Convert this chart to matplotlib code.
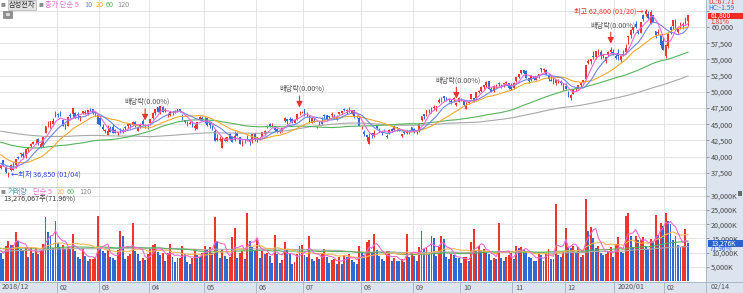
import numpy as np
import pandas as pd
import matplotlib
matplotlib.use("Agg")
import matplotlib.pyplot as plt
import matplotlib.ticker as ticker
import matplotlib.transforms as mtransforms
from matplotlib.patches import Rectangle
from matplotlib.lines import Line2D

plt.rcParams["font.family"] = ["Noto Sans CJK KR", "DejaVu Sans"]

# ---------------------------------------------------------------------------
# Data: Samsung Electronics daily bars, 2018/12/28 .. 2020/02/14
# prices in won, volumes in thousand shares
# ---------------------------------------------------------------------------
month_labels = ["2018/12", "", "02", "03", "04", "05", "06", "07", "08",
                "09", "10", "11", "12", "2020/01", "02"]
bars_per_month = [1, 22, 17, 20, 22, 21, 19, 23, 21, 19, 21, 21, 20, 20, 10]
exdiv_bars = [58, 120, 183, 245]
last_date = "02/14"

# 119 closes / volumes before the first visible bar (for the moving averages)
pre_closes = [
    46150, 45400, 45300, 45850, 45550, 45150, 46000, 46400, 46300, 46550,
    46350, 46200, 45500, 45900, 46400, 46900, 46700, 46350, 46000,
    46150, 45550, 44700, 45300, 45700, 45250, 45400, 44800, 44450, 43900,
    44300, 44000, 44600, 45100, 45050, 45950, 46300, 46600, 46700, 46850, 46900, 46450,
    45550, 45000, 44850, 44750, 44250, 44550, 44400, 44050, 44750, 45900,
    45300, 44850, 45350, 46350, 47100, 47250, 46450,
    46350, 45650, 44700, 44700, 44950, 44800, 43000, 43900, 44500, 43550,
    44050, 43300, 43000, 43050, 43300, 42550, 41550, 41000, 41100, 41000, 42400,
    42150, 43550, 43350, 43100, 43950, 44300, 43750, 43050, 43200, 43300,
    43050, 44000, 43650, 42900, 42250, 42350, 42600, 43150, 43350, 43050, 43250, 43500,
    43900, 42450, 41850, 41100, 40750, 40500, 40450, 40750, 40800, 40000,
    39200, 39150, 39300, 38900, 38950, 38800, 38350, 38250,
]
pre_volumes = [
    11200, 10400, 9800, 8300, 7900, 8600, 9100, 8700, 7600, 8200,
    9400, 8000, 7300, 8900, 10100, 9600, 8800, 9200, 10300,
    9600, 8400, 10800, 8900, 9300, 10200, 8100, 9700, 11500, 12300,
    10600, 9400, 8800, 9100, 8500, 10900, 9800, 8600, 7900, 8800, 9500, 10400,
    9100, 8700, 10500, 9900, 11200, 9400, 8600, 9800, 10300, 12100,
    9700, 8800, 9500, 14600, 13200, 8900, 8100,
    8400, 9600, 10800, 9700, 10200, 12600, 15300, 13100, 11400, 10800,
    9900, 11700, 10500, 12200, 13400, 14800, 12900, 13700, 11800, 10600, 15200,
    13500, 16200, 10800, 9400, 11600, 10300, 9200, 11100, 10400, 9800,
    12800, 9700, 10200, 11500, 9300, 8900, 10800, 9600, 8700, 11900, 10200, 13400,
    14200, 12300, 11000, 13600, 12500, 10800, 9700, 11900, 12600, 10400,
    9600, 11200, 10800, 14500, 12100, 9300, 10700, 11500,
]

opens = [
    38250,
    39400, 38300, 37450, 38000, 38000, 38650, 40000, 40350, 40450, 40050, 41150,
    41700, 42000, 42700, 42750, 41350, 41800, 43700, 45000, 45050, 45000, 46650,
    46650, 46800, 45700, 44500, 44750, 46400, 46600, 46750, 46500, 46100, 46750,
    46750, 46500, 47400, 47350, 46750, 46400,
    46000, 44600, 44000, 43400, 44450, 44500, 44100, 43650, 44200, 43950,
    44550, 44800, 45050, 44850, 45400, 44000, 44700, 45500, 44750, 44750,
    45200, 46000, 46750, 47650, 46950, 47600, 47150, 46400, 46450, 46700, 47000,
    47350, 47350, 46400, 45650, 45000, 45100, 45400, 44400, 44250, 45850, 46000,
    45500, 45900, 45250, 44300, 43900, 42600, 42500, 41300, 42700, 42350, 43450,
    43000, 42600, 43700, 42950, 42250, 42500, 42550, 42550, 42600, 43600,
    42950, 42800, 43000, 43500, 44550, 45000, 44700, 44400, 44200, 43750,
    44000, 45450, 45750, 45800, 45850, 45200, 45800, 46500, 47000,
    47350, 46200, 45750, 45250, 45950, 44750, 45050, 45550, 46350, 46350, 46200,
    46450, 46150, 45700, 46650, 46800, 47350, 47100, 47150, 46650, 47150, 46100, 46000,
    44350, 43850, 43400, 42000, 43600, 43200, 44700, 44250, 43800, 44150, 43250,
    43650, 44200, 44100, 44500, 44300, 43200, 43800, 43650, 43850, 44500,
    44250, 43900, 43950, 45650, 46500, 46550, 47100, 47000, 47500, 47400,
    48400, 48850, 49300, 48900, 48800, 48500, 48800, 48000, 48450,
    48900, 48650, 47400, 48350, 48900, 49000, 49000, 50000, 50100, 50700, 51100,
    51600, 50500, 50200, 51000, 51300, 50900, 51200, 51400, 51300, 51000,
    50600, 51700, 52300, 52900, 53400, 53200, 52200, 51800, 52500, 51900, 52500,
    53600, 53400, 53300, 52500, 51900, 52000, 51300, 51400, 51600, 51200,
    50900, 50000, 49000, 49650, 50400, 50600, 51100, 51500, 52000, 54500,
    54800, 55600, 55300, 56000, 56100, 55600, 54700, 55700, 56200, 56200,
    55500, 56000, 54900, 55700, 56200, 58400, 58800, 59600, 60400, 59500,
    59100, 61900, 62000, 62000, 60500, 61800, 59400, 59100, 58800, 57800,
    55500, 57100, 60000, 60100, 61100, 59200, 59800, 60300, 61200, 60900,
]
highs = [
    38900,
    39400, 38550, 37600, 38900, 39200, 39600, 40150, 40550, 40700, 41100, 41450,
    42100, 42400, 42750, 42850, 42250, 43100, 44750, 45500, 45500, 45950, 47050,
    46800, 47100, 45850, 45000, 46050, 46700, 47500, 46850, 46850, 46300, 47100,
    47200, 47150, 47550, 47350, 46900, 46500,
    46100, 45100, 44300, 44950, 44800, 45000, 44200, 43850, 44350, 44450,
    44650, 45100, 45100, 45500, 45450, 44600, 45150, 45800, 45050, 44900,
    45800, 46850, 47300, 47700, 47750, 47850, 47550, 46700, 47000, 47000, 47200,
    47400, 47400, 46500, 45700, 45450, 45500, 45550, 45050, 45350, 46250, 46300,
    46150, 46050, 45300, 44850, 44250, 43450, 43200, 43100, 43050, 43100, 43600,
    43150, 44000, 43850, 42950, 42500, 42700, 43350, 42650, 43500, 43650,
    43000, 43100, 43850, 44100, 44850, 45200, 45150, 44550, 44400, 44100,
    44450, 46050, 45800, 46100, 45950, 45800, 46600, 47050, 47000,
    47400, 46900, 46350, 46150, 46100, 44800, 45500, 46100, 46500, 46450, 46250,
    46850, 46600, 46350, 46950, 47100, 47550, 47400, 47600, 47150, 47150, 46350, 46100,
    44800, 44050, 43400, 43700, 43650, 44050, 44900, 44350, 44000, 44250, 43500,
    44200, 44350, 44800, 44550, 44400, 43500, 43900, 44050, 44050, 44600,
    44400, 44150, 45150, 46300, 46550, 47200, 47400, 47600, 48000, 47850,
    49000, 49150, 49400, 49150, 49100, 48850, 49150, 48400, 49250,
    49100, 48700, 48650, 48700, 49650, 49100, 49900, 50300, 50900, 51100, 51600,
    51700, 50800, 51000, 51200, 51500, 51200, 51400, 51700, 51400, 51400,
    51500, 52300, 52700, 53300, 53400, 53300, 52200, 52600, 52500, 52500, 52800,
    53600, 53700, 53500, 52800, 52600, 52200, 52000, 52000, 51800, 51400,
    51300, 50100, 49650, 50500, 50800, 51100, 51300, 51800, 54200, 55100,
    55100, 56300, 56300, 56600, 56400, 55700, 55400, 56300, 56900, 56600,
    56000, 56600, 55600, 56400, 57400, 58600, 59700, 60000, 61000, 59600,
    60700, 62000, 62800, 62400, 62600, 61800, 59400, 59700, 58800, 58400,
    57400, 59000, 60200, 61100, 61200, 59800, 60700, 60700, 61600, 61900,
]
lows = [
    38050,
    38550, 37450, 36850, 37800, 37950, 38300, 39600, 39950, 39850, 39850, 40700,
    41450, 41950, 41900, 41850, 41350, 41500, 43650, 44600, 44350, 44800, 46150,
    46150, 46200, 44650, 44250, 44650, 46000, 46150, 45950, 45850, 45500, 46500,
    46500, 46450, 47050, 46500, 46300, 45100,
    44800, 44150, 43700, 43400, 43800, 43650, 43650, 43150, 43650, 43700,
    44000, 44400, 44400, 44800, 44600, 43950, 44450, 44900, 44450, 44300,
    44900, 45800, 46400, 46900, 46500, 46900, 46850, 46050, 46250, 46400, 46800,
    46900, 46950, 45600, 45200, 44800, 45000, 44600, 44150, 44200, 45700, 45650,
    45200, 44800, 44400, 44100, 42450, 42450, 42350, 41300, 42400, 42350, 42500,
    42200, 42450, 43150, 41950, 41700, 42150, 42350, 41850, 42150, 42450,
    42250, 42550, 42950, 43350, 44400, 44500, 44550, 43900, 43600, 43650,
    43800, 45300, 45050, 45350, 45250, 45200, 45600, 46400, 46700,
    46250, 46100, 45200, 45250, 45350, 44350, 44850, 45000, 45850, 45650, 45800,
    46150, 45800, 45700, 46550, 46600, 47050, 46550, 46850, 46550, 46000, 45900, 44650,
    44250, 43250, 42350, 42000, 42900, 43050, 44300, 43750, 43400, 43900, 42900,
    43500, 43850, 44100, 43950, 44000, 43050, 43550, 43550, 43550, 44000,
    43650, 43550, 43850, 45550, 45850, 46200, 46700, 46800, 47150, 47100,
    48200, 48500, 48600, 48550, 48400, 48050, 48450, 47850, 48450,
    48650, 47800, 47350, 48050, 48850, 48500, 48800, 49800, 49900, 50400, 50800,
    50400, 49950, 50000, 50600, 50900, 50600, 50700, 51100, 50500, 50300,
    50400, 51500, 52100, 52700, 52800, 52100, 51300, 51600, 51800, 51900, 52200,
    53100, 53000, 52600, 51600, 51600, 51200, 51100, 51300, 51100, 50300,
    50400, 49200, 48700, 49600, 50100, 50500, 50700, 51300, 51900, 54300,
    54300, 55100, 55000, 55700, 55100, 55200, 54400, 55500, 55900, 55700,
    55000, 54900, 54600, 55600, 55900, 57400, 58300, 59100, 59900, 58900,
    59000, 61000, 61700, 61200, 60400, 60700, 58300, 58800, 56800, 56400,
    55200, 56800, 58900, 59700, 59700, 59100, 59700, 59700, 60500, 60200,
]
closes = [
    38700,
    38750, 37600, 37450, 38750, 38100, 39600, 39800, 40500, 40050, 41100, 41450,
    41950, 42300, 42750, 42150, 42000, 43050, 44750, 45050, 45500, 45500, 46150,
    46350, 46200, 44800, 45000, 46050, 46200, 47500, 46050, 46400, 46250, 47050,
    46900, 47150, 47350, 46750, 46750, 45100,
    44850, 44250, 44000, 44000, 43800, 43650, 43650, 43850, 44050, 43850,
    44450, 45050, 44850, 45400, 44950, 44450, 45000, 44950, 44700, 44650,
    45750, 46800, 47300, 46950, 47750, 46950, 47000, 46450, 46850, 46850, 47050,
    47250, 47050, 45600, 45300, 45350, 45200, 44850, 44800, 45350, 46150, 45850,
    45300, 44850, 44850, 44250, 42450, 42900, 42650, 42650, 42450, 43000, 42700,
    42300, 43150, 43250, 42000, 42300, 42500, 42650, 42200, 43500, 42500,
    42900, 42850, 43800, 43900, 44800, 44800, 44750, 44050, 44000, 43900,
    44350, 46000, 45500, 45700, 45500, 45600, 46600, 46500, 47000,
    46600, 46250, 45400, 46000, 45650, 44650, 45350, 45100, 46200, 45800, 46050,
    46450, 46100, 46100, 46850, 47000, 47150, 47200, 47150, 47150, 46100, 46100, 44700,
    44450, 43550, 42950, 43000, 43300, 43600, 44450, 44250, 43600, 44050, 43000,
    44100, 43950, 44700, 44400, 44200, 43500, 43650, 43950, 44000, 44000,
    43800, 43800, 45100, 46300, 46300, 47200, 47000, 47550, 47600, 47800,
    48800, 48900, 49050, 48850, 48900, 48450, 49000, 48300, 49050,
    48850, 48000, 48000, 48400, 49650, 48750, 49900, 50000, 50700, 51000, 51500,
    50400, 50000, 50900, 51000, 51200, 50900, 51300, 51500, 50600, 50400,
    51400, 52300, 52700, 53300, 52900, 52100, 51600, 52600, 52000, 52500, 52800,
    53500, 53400, 52700, 52000, 51600, 51200, 51800, 51800, 51300, 50300,
    50400, 49400, 49450, 50400, 50600, 51000, 51300, 51800, 54200, 54700,
    55000, 55300, 56300, 56000, 55500, 55600, 55400, 56200, 56500, 55800,
    55200, 55500, 55500, 55800, 56800, 58600, 59500, 60000, 60000, 59000,
    60700, 61300, 62400, 61400, 62300, 60800, 58800, 59100, 57200, 56400,
    57200, 58900, 59500, 61100, 60400, 59700, 59900, 60500, 60700, 61800,
]
volumes = [
    9900,
    7800, 12400, 14100, 12700, 12800, 17100, 14200, 11100, 11000, 11800, 8400,
    11900, 9800, 11500, 9400, 10600, 13200, 22400, 17400, 16000, 11500, 21000,
    13500, 11900, 12600, 11300, 12000, 11100, 16500, 10600, 8600, 7600, 11700,
    8900, 6900, 7600, 7800, 8300, 23000,
    11100, 10600, 9800, 10900, 8400, 8200, 7300, 10800, 17500, 16000,
    7900, 8800, 9500, 20600, 10700, 9400, 7000, 8000, 7400, 9400,
    11200, 12700, 13000, 10200, 9300, 10000, 7000, 9700, 13000, 8300, 6800,
    8000, 8100, 12300, 9400, 6800, 6000, 8000, 11300, 9000, 8300, 9900,
    12300, 11000, 11900, 10000, 22700, 14000, 8100, 11000, 8900, 7800, 8500,
    15400, 18500, 8200, 9800, 10600, 7600, 24100, 14200, 12000, 11000,
    15000, 8200, 10600, 9500, 10000, 8900, 6400, 16300, 9500, 6400,
    7500, 13600, 11000, 9700, 6000, 6600, 9600, 12500, 12600,
    9000, 8500, 15700, 7900, 7200, 8400, 7600, 10000, 11100, 8300, 6400,
    7300, 7600, 5900, 8400, 6000, 9300, 8600, 9400, 7300, 6600, 5900, 12500,
    9900, 9200, 13900, 14600, 10000, 16400, 11000, 8800, 7600, 7200, 10400,
    10600, 7000, 8000, 7200, 6900, 7800, 6800, 16400, 8500, 9800,
    8900, 6900, 11800, 17700, 11400, 11500, 9400, 15700, 15000, 8900,
    12000, 16000, 14800, 8400, 7600, 9600, 9000, 8100, 8000,
    6200, 8400, 8500, 6900, 13600, 18300, 10600, 12200, 11000, 11400, 10200,
    9600, 7300, 8200, 7600, 20600, 8000, 7000, 8400, 9100, 9700,
    7900, 12500, 11500, 12000, 11000, 10600, 8300, 8000, 7200, 7000, 10000,
    9100, 7000, 9800, 11100, 7800, 7600, 27000, 9000, 8600, 10400,
    18500, 12100, 11500, 12500, 10000, 12000, 8600, 9000, 29000, 17700,
    19000, 15200, 11600, 12500, 9800, 9200, 9600, 10500, 12000, 8400,
    12900, 15400, 10300, 10000, 23000, 23900, 16000, 12000, 15700, 14300,
    14400, 15400, 12500, 11100, 14800, 14000, 23200, 16300, 20300, 19500,
    23800, 21200, 20000, 14500, 16000, 12800, 12000, 12300, 18450, 13276,
]

# ---------------------------------------------------------------------------
RED = "#f0342c"
BLUE = "#2e6ad4"
PRICE_MA = {120: "#a8a8a8", 60: "#55b35b", 20: "#f3a92b", 10: "#6f84e6", 5: "#ec6ad3"}
VOL_MA = {120: "#ababab", 60: "#55b35b", 20: "#f5b650", 5: "#ec6ad3"}
STRIP = "#dbe4ef"
STRIP_EDGE = "#9fb0c4"
GRID = "#e3e3e3"
FS = 5.2

W, H = 743, 293
PLOT_R = 706          # right edge of the plotting area (px)
SPLIT = 187           # price / volume border (px)
BOTTOM = 282          # top of the date strip (px)

fig = plt.figure(figsize=(W / 100, H / 100), dpi=100)
fig.patch.set_facecolor("white")


def fx(px):
    return px / W


def fy(py):
    return 1 - py / H


def ptext(px, py, s, **kw):
    kw.setdefault("fontsize", FS)
    kw.setdefault("va", "center")
    return fig.text(fx(px), fy(py), s, **kw)


def prect(x0, y0, x1, y1, **kw):
    r = Rectangle((fx(x0), fy(y1)), fx(x1) - fx(x0), fy(y0) - fy(y1),
                  transform=fig.transFigure, **kw)
    fig.add_artist(r)
    return r


ax_p = fig.add_axes([0, fy(SPLIT), fx(PLOT_R), SPLIT / H])
ax_v = fig.add_axes([0, fy(BOTTOM), fx(PLOT_R), (BOTTOM - SPLIT) / H])

n = len(closes)
x = np.arange(n)
o, h, l, c = (np.array(a, dtype=float) for a in (opens, highs, lows, closes))
v = np.array(volumes, dtype=float)

for ax in (ax_p, ax_v):
    ax.set_xlim(-0.28, 283.25)
    ax.set_facecolor("white")
    ax.set_axisbelow(True)
    for sp in ax.spines.values():
        sp.set_visible(False)
    ax.set_xticks([])
    ax.yaxis.tick_right()
    ax.tick_params(axis="y", direction="out", length=2.5, width=0.6,
                   color="#8a8a8a", pad=1.2, labelsize=FS, labelcolor="#4a4a4a")
    ax.yaxis.grid(True, color=GRID, lw=0.7)

ax_p.set_ylim(35310, 64170)
ax_v.set_ylim(-350, 33100)

ax_p.set_yticks(np.arange(37500, 62501, 2500))
ax_p.yaxis.set_major_formatter(
    ticker.FuncFormatter(lambda y, _: f"{y:,.0f}" if y <= 60000 else ""))
ax_v.set_yticks(np.arange(5000, 30001, 5000))
ax_v.yaxis.set_major_formatter(ticker.FuncFormatter(lambda y, _: f"{y:,.0f}K"))

# month separators
starts = np.cumsum([0] + bars_per_month[:-1])
for s, lab in zip(starts, month_labels):
    if lab and s > 0:
        for ax in (ax_p, ax_v):
            ax.axvline(s - 0.5, color=GRID, lw=0.7, zorder=0)

# candles
ccol = np.where(c >= o, RED, BLUE)
ax_p.vlines(x, l, h, colors=ccol, linewidth=0.7, zorder=2)
ax_p.bar(x, np.maximum(np.abs(c - o), 60), bottom=np.minimum(o, c), width=0.74,
         color=ccol, linewidth=0, zorder=2)

close_all = pd.Series(pre_closes + closes, dtype=float)
for w, col in PRICE_MA.items():
    ma = close_all.rolling(w).mean().to_numpy()[len(pre_closes):]
    ax_p.plot(x, ma, color=col, lw=0.8, zorder=3)

# volume, coloured by change against the previous day's volume
vol_all = np.array(pre_volumes + volumes, dtype=float)
prev_v = vol_all[len(pre_volumes) - 1:-1]
vcol = np.where(v > prev_v, RED, BLUE)
ax_v.bar(x, v, width=0.78, color=vcol, linewidth=0, zorder=2)
vol_series = pd.Series(vol_all)
for w, col in VOL_MA.items():
    ma = vol_series.rolling(w).mean().to_numpy()[len(pre_volumes):]
    ax_v.plot(x, ma, color=col, lw=0.8, zorder=3)

# high / low / ex-dividend markers
i_low = int(np.argmin(l))
i_high = int(np.argmax(h))
ax_p.annotate(f"←최저 {int(l[i_low]):,} (01/04)", xy=(i_low, l[i_low]),
              xytext=(3, 2.5), textcoords="offset pixels", ha="left",
              va="center", fontsize=FS, color="#2f45d8", zorder=5)
ax_p.annotate(f"최고 {int(h[i_high]):,} (01/20)→", xy=(i_high, h[i_high]),
              xytext=(-2, -2.5), textcoords="offset pixels", ha="right",
              va="center", fontsize=FS, color="#e8322a", zorder=5)
for b in exdiv_bars:
    ax_p.annotate("", xy=(b, h[b]), xytext=(0, 15), textcoords="offset pixels",
                  arrowprops=dict(arrowstyle="-|>,head_length=0.35,head_width=0.18",
                                  color="#e8322a", lw=0.8, shrinkA=0, shrinkB=2.5),
                  zorder=5)
    ax_p.annotate("배당락(0.00%)", xy=(b, h[b]), xytext=(2, 22),
                  textcoords="offset pixels", ha="center", va="center",
                  fontsize=FS, color="#555555", zorder=5)

# ---------------------------------------------------------------------------
# frame: right value strip, bottom date strip
prect(PLOT_R, 0, W, BOTTOM, facecolor=STRIP, edgecolor="none", zorder=-1)
prect(0, BOTTOM, W, H, facecolor=STRIP, edgecolor="none", zorder=-1)
fig.add_artist(Line2D([fx(PLOT_R), fx(PLOT_R)], [fy(0), fy(H)],
                      transform=fig.transFigure, color=STRIP_EDGE, lw=0.6))
fig.add_artist(Line2D([0, 1], [fy(BOTTOM), fy(BOTTOM)],
                      transform=fig.transFigure, color=STRIP_EDGE, lw=0.6))
fig.add_artist(Line2D([0, fx(PLOT_R)], [fy(SPLIT), fy(SPLIT)],
                      transform=fig.transFigure, color="#c4c4c4", lw=0.6))

trans = mtransforms.blended_transform_factory(ax_v.transData, fig.transFigure)
for s, lab in zip(starts, month_labels):
    if not lab:
        continue
    if s > 0:
        fig.add_artist(Line2D([s - 0.5, s - 0.5], [fy(BOTTOM), fy(H)],
                              transform=trans, color=STRIP_EDGE, lw=0.6))
    fig.text(s + 0.6, fy(287.5), lab, transform=trans, fontsize=FS,
             va="center", ha="left", color="#555555")
ptext(711, 287.5, last_date, color="#555555")

# price legend
ptext(1, 5, "■", fontsize=3.5, color="#8c8c8c")
ptext(9, 5, "삼성전자", color="#333333",
      bbox=dict(boxstyle="square,pad=0.12", fc="#e2e2e2", ec="#b4b4b4", lw=0.5))
ptext(39, 5, "■", fontsize=3.5, color="#8c8c8c")
ptext(45, 5, "종가 단순 5", color=PRICE_MA[5])
ptext(84, 5, "10", color=PRICE_MA[10])
ptext(96, 5, "20", color=PRICE_MA[20])
ptext(106, 5, "60", color=PRICE_MA[60])
ptext(117, 5, "120", color="#8f8f8f")
prect(3, 11, 12, 17.5, facecolor="#8e8e8e", edgecolor="#6e6e6e", lw=0.4, zorder=4)
prect(5.5, 12.8, 9.5, 15.8, facecolor="#d8d8d8", edgecolor="none", zorder=5)

# volume legend
ptext(1, 192, "■", fontsize=3.5, color="#8c8c8c")
ptext(8, 192, "거래량", color="#3fa3ac")
ptext(33, 192, "단순 5", color=VOL_MA[5])
ptext(57, 192, "20", color=VOL_MA[20])
ptext(67, 192, "60", color=VOL_MA[60])
ptext(79, 192, "120", color="#8f8f8f")
ptext(3, 199.5, "13,276,067주(71.96%)", color="#3c3c3c")

# current value labels in the right strip
ptext(708, 2.5, "LC:67.71", fontsize=4.8, color="#e8322a", zorder=6)
ptext(708, 8.5, "HC:-1.59", fontsize=4.8, color="#3a6ee0", zorder=6)
prect(708, 12.5, W, 19, facecolor="#ee2a22", edgecolor="none", zorder=6)
ptext(711, 15.8, f"{int(c[-1]):,}", fontsize=4.8, color="white", zorder=7)
ptext(710, 21.5, "1.81%", fontsize=4.8, color="#e8322a", zorder=6)
prect(708, 240, W, 246.5, facecolor="#2b62d0", edgecolor="none", zorder=6)
ptext(711, 243.2, "13,276K", fontsize=4.8, color="white", zorder=7)
ptext(710, 249, "71.96%", fontsize=4.8, color="#2b62d0", zorder=6)
prect(737.5, 191.5, 741.5, 195.5, facecolor="#6a6a6a", edgecolor="none", zorder=6)

fig.savefig("out.png", dpi=100, facecolor="white")
